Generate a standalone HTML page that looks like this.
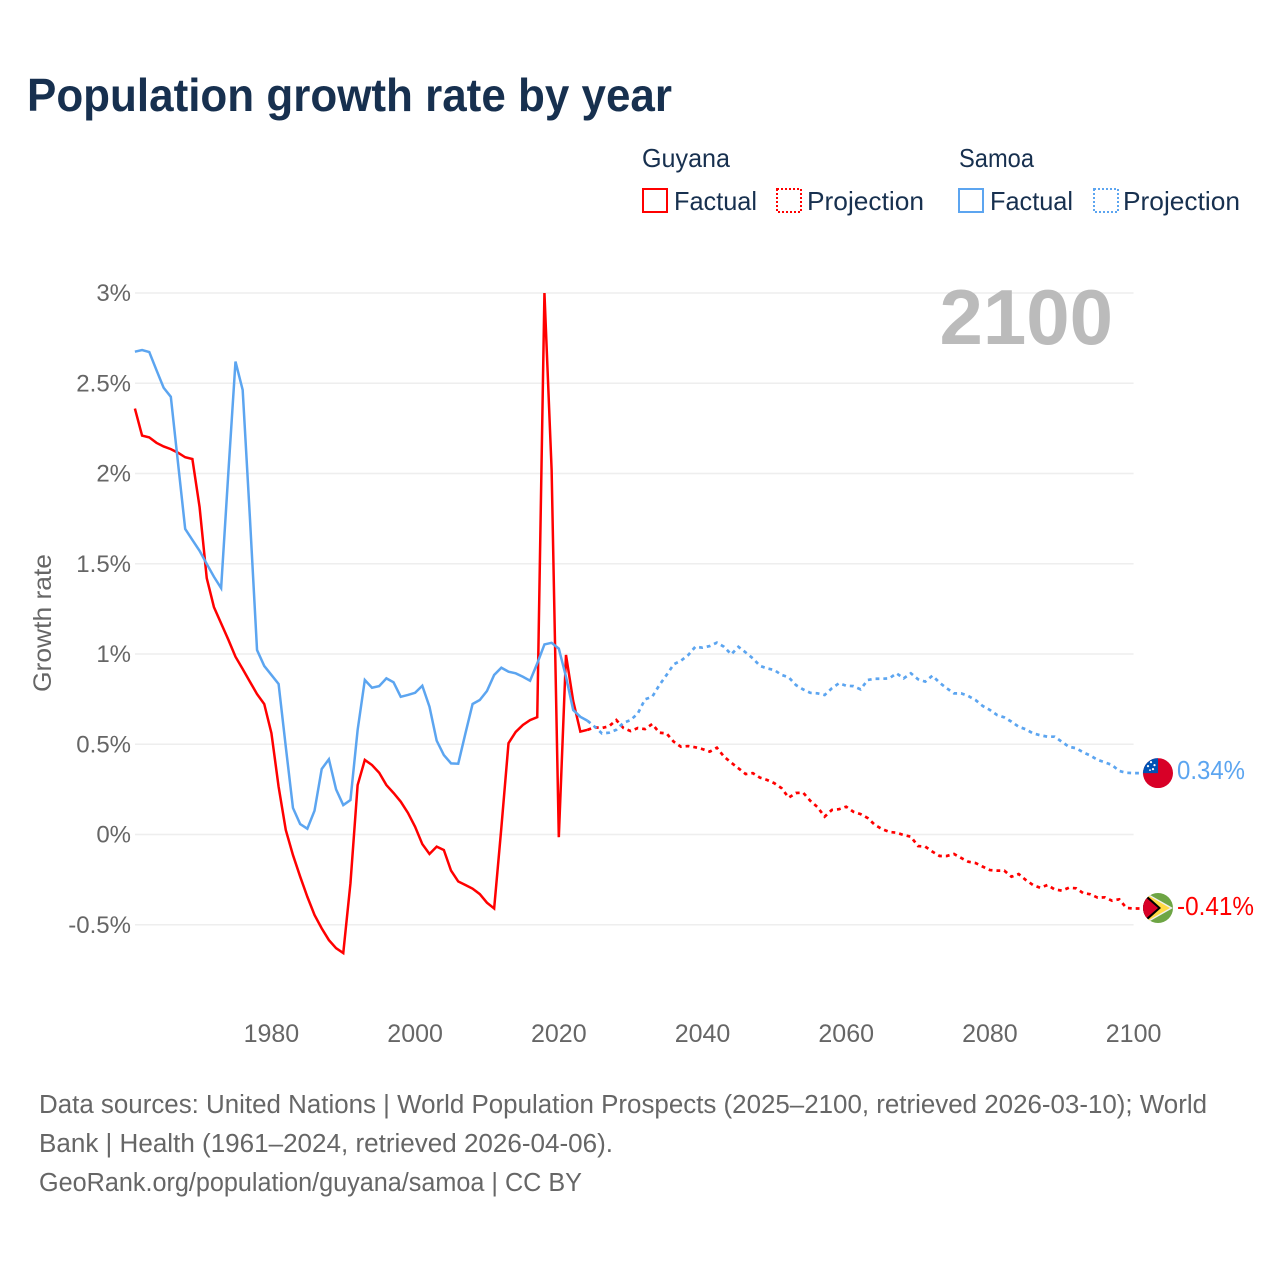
<!DOCTYPE html>
<html lang="en">
<head>
<meta charset="utf-8">
<title>Population growth rate by year</title>
<style>
  html, body { margin: 0; padding: 0; background: #fff; }
  svg { display: block; font-family: "Liberation Sans", sans-serif; }
</style>
</head>
<body>
<svg id="chart" xmlns="http://www.w3.org/2000/svg" width="1280" height="1280" viewBox="0 0 1280 1280">
  <defs>
    <clipPath id="flag-clip"><circle cx="0" cy="0" r="15"/></clipPath>
  </defs>
  <rect x="0" y="0" width="1280" height="1280" fill="#ffffff"/>

  <text x="27" y="111" font-size="46" font-weight="700" fill="#17304f" textLength="645" lengthAdjust="spacingAndGlyphs">Population growth rate by year</text>

  <g font-size="26" fill="#17304f">
    <text x="642" y="167" textLength="88" lengthAdjust="spacingAndGlyphs">Guyana</text>
    <text x="959" y="167" textLength="75" lengthAdjust="spacingAndGlyphs">Samoa</text>
    <rect x="643" y="189" width="24" height="23" fill="none" stroke="#ff0000" stroke-width="2"/>
    <text x="674" y="210" textLength="83" lengthAdjust="spacingAndGlyphs">Factual</text>
    <rect x="777" y="189" width="24" height="23" fill="none" stroke="#ff0000" stroke-width="2" stroke-dasharray="2 2"/>
    <text x="807" y="210" textLength="117" lengthAdjust="spacingAndGlyphs">Projection</text>
    <rect x="959" y="189" width="24" height="23" fill="none" stroke="#5ca5f0" stroke-width="2"/>
    <text x="990" y="210" textLength="83" lengthAdjust="spacingAndGlyphs">Factual</text>
    <rect x="1094" y="189" width="24" height="23" fill="none" stroke="#5ca5f0" stroke-width="2" stroke-dasharray="2 2"/>
    <text x="1123" y="210" textLength="117" lengthAdjust="spacingAndGlyphs">Projection</text>
  </g>

  <g id="grid"></g>
  <g id="y-ticks" font-size="24" fill="#666666" text-anchor="end"></g>
  <g id="x-ticks" font-size="25" fill="#666666" text-anchor="middle"></g>

  <text transform="translate(51,692) rotate(-90)" font-size="25" fill="#666666" textLength="138" lengthAdjust="spacingAndGlyphs">Growth rate</text>

  <text id="current-year" x="1113" y="344" font-size="78" font-weight="700" fill="#bbbbbb" text-anchor="end"></text>

  <g id="series"></g>

  <g id="flag-samoa">
    <g clip-path="url(#flag-clip)">
      <rect x="-15" y="-15" width="30" height="30" fill="#d80027"/>
      <rect x="-15" y="-15" width="15" height="15" fill="#0052b4"/>
      <circle cx="-7" cy="-11" r="1.1" fill="#fff"/>
      <circle cx="-3.5" cy="-8" r="1.1" fill="#fff"/>
      <circle cx="-10" cy="-7" r="1.1" fill="#fff"/>
      <circle cx="-5" cy="-4" r="1.1" fill="#fff"/>
      <circle cx="-8" cy="-3" r="0.9" fill="#fff"/>
    </g>
  </g>
  <g id="flag-guyana">
    <g clip-path="url(#flag-clip)">
      <rect x="-15" y="-15" width="30" height="30" fill="#6da544"/>
      <polygon points="-15,-17 15,0 -15,17" fill="#f0f0f0"/>
      <polygon points="-14,-15 12,0 -14,15" fill="#ffda44"/>
      <polygon points="-15,-16 3,0 -15,16" fill="#000000"/>
      <polygon points="-15,-13 0,0 -15,13" fill="#d80027"/>
    </g>
  </g>
  <text id="value-samoa" x="1177" font-size="26" fill="#5ca5f0" textLength="68" lengthAdjust="spacingAndGlyphs"></text>
  <text id="value-guyana" x="1177" font-size="26" fill="#ff0000" textLength="77" lengthAdjust="spacingAndGlyphs"></text>

  <g font-size="25.5" fill="#666666">
    <text x="39" y="1113" textLength="1168" lengthAdjust="spacingAndGlyphs">Data sources: United Nations | World Population Prospects (2025–2100, retrieved 2026-03-10); World</text>
    <text x="39" y="1152" textLength="574" lengthAdjust="spacingAndGlyphs">Bank | Health (1961–2024, retrieved 2026-04-06).</text>
    <text x="39" y="1191" textLength="543" lengthAdjust="spacingAndGlyphs">GeoRank.org/population/guyana/samoa | CC BY</text>
  </g>
</svg>

<script>
const factualStartYear = 1961;
const projectionStartYear = 2025;
const yTickValues = [-0.5, 0, 0.5, 1, 1.5, 2, 2.5, 3];
const yTickLabels = ["-0.5%", "0%", "0.5%", "1%", "1.5%", "2%", "2.5%", "3%"];
const xTickYears = [1980, 2000, 2020, 2040, 2060, 2080, 2100];

const guyanaFactual = [
  2.36, 2.21, 2.20, 2.17, 2.15, 2.135, 2.115, 2.09, 2.08, 1.815,
  1.42, 1.26, 1.17, 1.08, 0.985, 0.917, 0.847, 0.778, 0.723, 0.562,
  0.265, 0.025, -0.114, -0.233, -0.345, -0.446, -0.52, -0.585, -0.63, -0.657,
  -0.27, 0.274, 0.413, 0.385, 0.342, 0.274, 0.23, 0.182, 0.12, 0.043,
  -0.053, -0.108, -0.067, -0.086, -0.2, -0.26, -0.28, -0.3, -0.33, -0.378,
  -0.41, 0.036, 0.506, 0.568, 0.607, 0.634, 0.65, 3.0, 2.02, -0.015,
  0.995, 0.74, 0.57, 0.58
];
const guyanaProjection = [
  0.594, 0.59, 0.6, 0.634, 0.59,
  0.573, 0.59, 0.584, 0.612, 0.564, 0.56, 0.514, 0.486, 0.49, 0.483,
  0.473, 0.459, 0.481, 0.431, 0.398, 0.367, 0.335, 0.34, 0.315, 0.302,
  0.284, 0.257, 0.204, 0.23, 0.232, 0.187, 0.152, 0.099, 0.136, 0.14,
  0.154, 0.126, 0.113, 0.091, 0.053, 0.03, 0.014, 0.01, -0.003, -0.012,
  -0.064, -0.067, -0.095, -0.119, -0.119, -0.108, -0.13, -0.151, -0.158, -0.178,
  -0.197, -0.2, -0.2, -0.234, -0.219, -0.252, -0.28, -0.295, -0.28, -0.304,
  -0.311, -0.295, -0.298, -0.325, -0.331, -0.35, -0.348, -0.367, -0.359, -0.407,
  -0.41
];
const samoaFactual = [
  2.675, 2.684, 2.673, 2.573, 2.475, 2.425, 2.058, 1.693, 1.632, 1.572,
  1.499, 1.428, 1.365, 2.0, 2.62, 2.463, 1.76, 1.022, 0.934, 0.884,
  0.834, 0.486, 0.147, 0.058, 0.032, 0.132, 0.363, 0.417, 0.25, 0.163,
  0.191, 0.579, 0.856, 0.813, 0.822, 0.865, 0.843, 0.763, 0.773, 0.785,
  0.824, 0.708, 0.52, 0.44, 0.394, 0.392, 0.56, 0.723, 0.745, 0.795,
  0.884, 0.924, 0.902, 0.893, 0.874, 0.852, 0.948, 1.053, 1.062, 1.03,
  0.874, 0.69, 0.652, 0.63
];
const samoaProjection = [
  0.597, 0.56, 0.564, 0.58, 0.619,
  0.634, 0.671, 0.749, 0.763, 0.828, 0.884, 0.943, 0.963, 0.994, 1.04,
  1.035, 1.044, 1.063, 1.04, 0.998, 1.04, 1.009, 0.976, 0.934, 0.92,
  0.911, 0.884, 0.871, 0.828, 0.804, 0.785, 0.782, 0.773, 0.81, 0.838,
  0.824, 0.822, 0.804, 0.856, 0.863, 0.863, 0.865, 0.893, 0.865, 0.893,
  0.86, 0.847, 0.88, 0.841, 0.81, 0.782, 0.782, 0.767, 0.745, 0.712,
  0.69, 0.662, 0.649, 0.625, 0.597, 0.583, 0.56, 0.55, 0.542, 0.542,
  0.514, 0.486, 0.478, 0.455, 0.437, 0.413, 0.4, 0.385, 0.352, 0.342,
  0.34
];

const NS = "http://www.w3.org/2000/svg";
const xScale = year => 134.9 + (year - 1961) * (998.7 / 139);
const yScale = value => 834.5 - value * 180.5;
const GRID_LEFT = 135;
const GRID_RIGHT = 1133.6;
const FLAG_X = 1158;
const BLUE = "#5ca5f0";
const RED = "#ff0000";

function buildPath(values, startYear, prefix) {
  let d = prefix || "";
  values.forEach((v, i) => {
    const cmd = (d === "") ? "M" : "L";
    d += cmd + xScale(startYear + i).toFixed(2) + " " + yScale(v).toFixed(2);
  });
  return d;
}

const gridGroup = document.getElementById("grid");
const yTickGroup = document.getElementById("y-ticks");
yTickValues.forEach((v, i) => {
  const line = document.createElementNS(NS, "line");
  line.setAttribute("x1", GRID_LEFT);
  line.setAttribute("x2", GRID_RIGHT);
  line.setAttribute("y1", yScale(v));
  line.setAttribute("y2", yScale(v));
  line.setAttribute("stroke", "#eeeeee");
  line.setAttribute("stroke-width", "1.4");
  
  
  gridGroup.appendChild(line);

  const label = document.createElementNS(NS, "text");
  label.setAttribute("x", 131);
  label.setAttribute("y", yScale(v) + 8);
  label.textContent = yTickLabels[i];
  
  
  yTickGroup.appendChild(label);
});

const xTickGroup = document.getElementById("x-ticks");
xTickYears.forEach(year => {
  const label = document.createElementNS(NS, "text");
  label.setAttribute("x", xScale(year));
  label.setAttribute("y", 1042);
  label.textContent = String(year);
  
  
  xTickGroup.appendChild(label);
});

const seriesGroup = document.getElementById("series");

function drawFactual(values, color, name) {
  const path = document.createElementNS(NS, "path");
  path.setAttribute("d", buildPath(values, factualStartYear));
  path.setAttribute("fill", "none");
  path.setAttribute("stroke", color);
  path.setAttribute("stroke-width", "2.5");
  path.setAttribute("stroke-linejoin", "miter");
  
  
  seriesGroup.appendChild(path);
}

function drawProjection(factual, values, color, name) {
  const lastYear = factualStartYear + factual.length - 1;
  const lastValue = factual[factual.length - 1];
  const endValue = values[values.length - 1];
  const start = "M" + xScale(lastYear).toFixed(2) + " " + yScale(lastValue).toFixed(2);
  let d = buildPath(values, projectionStartYear, start);
  d += "L" + (FLAG_X - 12) + " " + yScale(endValue).toFixed(2);
  const path = document.createElementNS(NS, "path");
  path.setAttribute("d", d);
  path.setAttribute("fill", "none");
  path.setAttribute("stroke", color);
  path.setAttribute("stroke-width", "2.7");
  path.setAttribute("stroke-dasharray", "3.8 4");
  
  
  seriesGroup.appendChild(path);
}

drawFactual(guyanaFactual, RED, "guyana-factual-line");
drawProjection(guyanaFactual, guyanaProjection, RED, "guyana-projection-line");
drawFactual(samoaFactual, BLUE, "samoa-factual-line");
drawProjection(samoaFactual, samoaProjection, BLUE, "samoa-projection-line");

const guyanaEnd = guyanaProjection[guyanaProjection.length - 1];
const samoaEnd = samoaProjection[samoaProjection.length - 1];
document.getElementById("flag-guyana").setAttribute("transform", "translate(" + FLAG_X + "," + (yScale(guyanaEnd) - 0.5) + ")");
document.getElementById("flag-samoa").setAttribute("transform", "translate(" + FLAG_X + "," + yScale(samoaEnd) + ")");

const valueGuyana = document.getElementById("value-guyana");
valueGuyana.setAttribute("y", yScale(guyanaEnd) + 6.5);
valueGuyana.textContent = guyanaEnd.toFixed(2) + "%";
const valueSamoa = document.getElementById("value-samoa");
valueSamoa.setAttribute("y", yScale(samoaEnd) + 6);
valueSamoa.textContent = samoaEnd.toFixed(2) + "%";

document.getElementById("current-year").textContent = String(projectionStartYear + guyanaProjection.length - 1);
</script>
</body>
</html>
